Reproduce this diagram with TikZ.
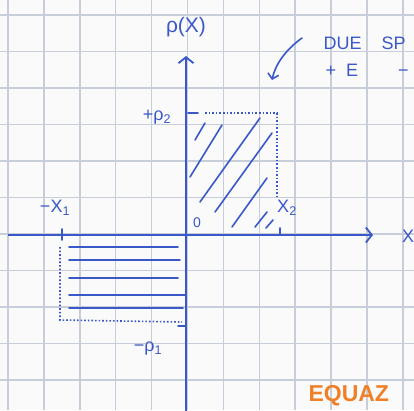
\documentclass[tikz,border=0pt]{standalone}
\usepackage{fontspec}
\setmainfont{Liberation Sans}
\usepackage{xcolor}
\usetikzlibrary{arrows.meta}

\definecolor{ink}{RGB}{58,88,200}
\definecolor{gridcol}{RGB}{200,205,218}
\definecolor{paper}{RGB}{250,250,250}
\definecolor{marker}{RGB}{240,128,40}

\begin{document}
\begin{tikzpicture}[x=1pt, y=-1pt,
    inkline/.style={ink, line width=1.6pt, line cap=round},
    axis/.style={ink, line width=2pt, -{Straight Barb[length=6pt,width=15pt,line width=1.8pt]}},
    dots/.style={ink, line width=1.6pt, dotted},
    hand/.style={ink, font=\fontsize{18}{20}\selectfont}]
    % Paper
    \fill[paper] (0,0) rectangle (414,410);
    \useasboundingbox (0,0) rectangle (414,410);
    \clip (0,0) rectangle (414,410);

    % Squared paper
    \foreach \i in {0,...,11} {
        \draw[gridcol, line width=1.5pt] ({8+35.9*\i},0) -- ({8+35.9*\i},410);
        \draw[gridcol, line width=1.5pt] (0,{15+36.5*\i}) -- (414,{15+36.5*\i});
    }

    % Axes
    \coordinate (xl) at (8,235);
    \coordinate (xr) at (373,235);
    \coordinate (yb) at (186,412);
    \coordinate (yt) at (186,56);
    \draw[axis] (xl) -- (xr);
    \draw[axis] (yb) -- (yt);
    \node[hand, font=\fontsize{21}{22}\selectfont] (rho) at (186,27) {ρ(X)};
    \node[hand] (xlab) at (408,236) {X};

    % Right rectangle (positive density)
    \coordinate (p2) at (198,113);
    \coordinate (c2) at (277,113);
    \coordinate (x2) at (277,196);
    \draw[inkline] (188,113) -- (p2);
    \draw[dots] (205,113) -- (c2) -- (x2);
    \draw[inkline] (280,228) -- (280,235);
    \node[hand] (rhotwo) at (157,117) {+ρ\textsubscript{2}};
    \node[hand] (xtwo) at (287,208) {X\textsubscript{2}};
    \node[hand, font=\fontsize{14}{15}\selectfont] (zero) at (197,223) {0};
    \draw[inkline] (195,140) -- (205,123);
    \draw[inkline] (190,177) -- (222,125);
    \draw[inkline] (200,202) -- (260,118);
    \draw[inkline] (215,212) -- (272,133);
    \draw[inkline] (232,227) -- (267,178);
    \draw[inkline] (255,227) -- (267,212);
    \draw[inkline] (266,228) -- (273,220);

    % Left rectangle (negative density)
    \coordinate (x1) at (62,240);
    \draw[inkline] (62,229) -- (x1);
    \draw[dots] (60,247) -- (60,320) -- (182,322);
    \draw[inkline] (178,326) -- (186,326);
    \node[hand] (xone) at (55,208) {−X\textsubscript{1}};
    \node[hand] (rhoone) at (148,349) {−ρ\textsubscript{1}};
    \foreach \y/\e in {247/178, 260/180, 278/178, 295/186, 308/183}
        \draw[inkline] (69,\y) -- (\e,\y);

    % Note with arrow
    \coordinate (nstart) at (302,38);
    \coordinate (ntip) at (272,80);
    \draw[inkline, -{Straight Barb[length=5pt,width=11pt]}] (nstart) .. controls (288,48) and (276,62) .. (ntip);
    \node[hand, anchor=west] (note1) at (320,43) {DUE\ \ \ \ SP};
    \node[hand, anchor=west] (note2) at (322,70) {+\ \ E\ \ \ \ \ \ \ \ −};

    % Heading below
    \node[marker, anchor=west, font=\fontsize{23}{24}\bfseries] (equaz) at (305,396) {EQUAZ};
\end{tikzpicture}
\end{document}
